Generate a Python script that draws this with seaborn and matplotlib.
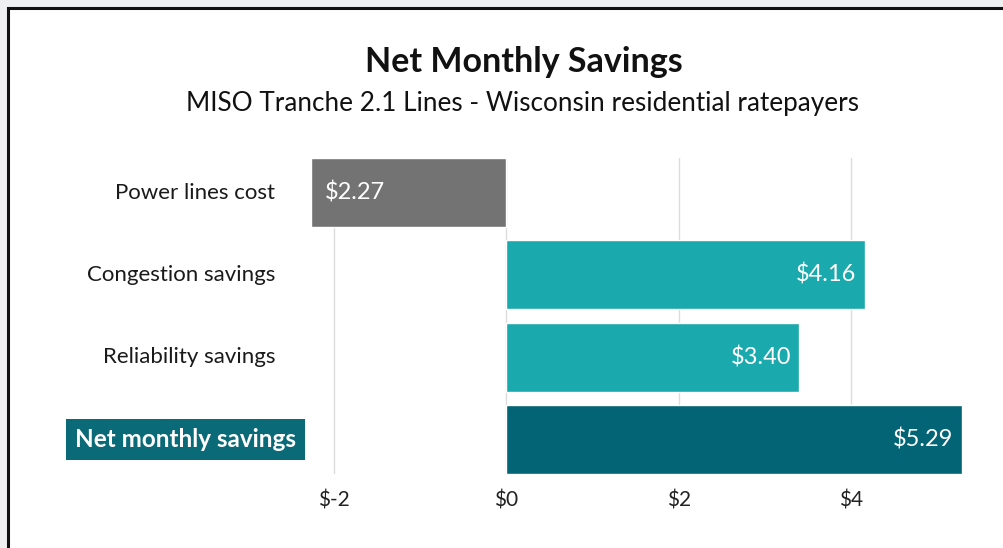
import matplotlib
matplotlib.use("Agg")
import matplotlib.pyplot as plt
import seaborn as sns
import pandas as pd
from matplotlib.patches import Rectangle

categories = ["Power lines cost", "Congestion savings", "Reliability savings", "Net monthly savings"]
values = [-2.27, 4.16, 3.40, 5.29]
value_labels = ["$2.27", "$4.16", "$3.40", "$5.29"]
colors = ["#737373", "#1aa9ad", "#1aa9ad", "#036475"]
xticks = [-2, 0, 2, 4]
xtick_labels = ["$-2", "$0", "$2", "$4"]

sns.set_theme(style="white")
plt.rcParams['font.family'] = ['Lato', 'DejaVu Sans']

W, H = 1004, 548
fig = plt.figure(figsize=(W / 100, H / 100), dpi=100)
fig.patch.set_facecolor("#eef0f2")

# white card with black border
card = Rectangle((8 / W, -0.1), 1.2, 1 - 8 / H + 0.1, transform=fig.transFigure,
                 facecolor="white", edgecolor="#111111", linewidth=2.2, zorder=-10)
fig.patches.append(card)

ax_left, ax_right, ax_top, ax_bot = 311, 962, 158, 474
ax = fig.add_axes([ax_left / W, 1 - ax_bot / H, (ax_right - ax_left) / W, (ax_bot - ax_top) / H])
ax.set_facecolor("none")
ax.set_zorder(5)

df = pd.DataFrame({"category": categories, "value": values})
sns.barplot(data=df, x="value", y="category", hue="category", palette=colors,
            orient="h", width=0.84, legend=False, ax=ax, zorder=3, saturation=1)

ax.set_xlim(-2.27, 5.29)
ax.set_ylim(3.42, -0.42)
ax.set_xticks(xticks)
ax.set_xticklabels(xtick_labels, fontsize=15, color="#222222")
ax.tick_params(axis="x", length=0, pad=12)
ax.set_yticks([])
ax.set_xlabel("")
ax.set_ylabel("")
for s in ax.spines.values():
    s.set_visible(False)
ax.grid(axis="x", color="#dcdcdc", linewidth=1, zorder=0)
ax.set_axisbelow(True)

# category labels
ytr = ax.get_yaxis_transform()
for i, cat in enumerate(categories):
    if i == len(categories) - 1:
        ax.text(-0.023, i, cat, transform=ytr, ha="right", va="center", fontsize=17.5,
                fontweight="bold", color="white",
                bbox=dict(boxstyle="square,pad=0.38", facecolor="#0b6a78", edgecolor="none"))
    else:
        ax.text(-0.055, i, cat, transform=ytr, ha="right", va="center", fontsize=16,
                color="#1a1a1a")

# value labels
for i, (v, lab) in enumerate(zip(values, value_labels)):
    if v < 0:
        ax.annotate(lab, xy=(v, i), xytext=(10, 0), textcoords="offset points",
                    ha="left", va="center", color="white", fontsize=17)
    else:
        ax.annotate(lab, xy=(v, i), xytext=(-6, 0), textcoords="offset points",
                    ha="right", va="center", color="white", fontsize=17)

fig.text(524 / W, 1 - 62 / H, "Net Monthly Savings", ha="center", va="center",
         fontsize=24.5, fontweight="bold", color="#111111")
fig.text(523 / W, 1 - 104 / H, "MISO Tranche 2.1 Lines - Wisconsin residential ratepayers",
         ha="center", va="center", fontsize=18.8, color="#111111")

fig.savefig("out.png", dpi=100, facecolor=fig.get_facecolor())
